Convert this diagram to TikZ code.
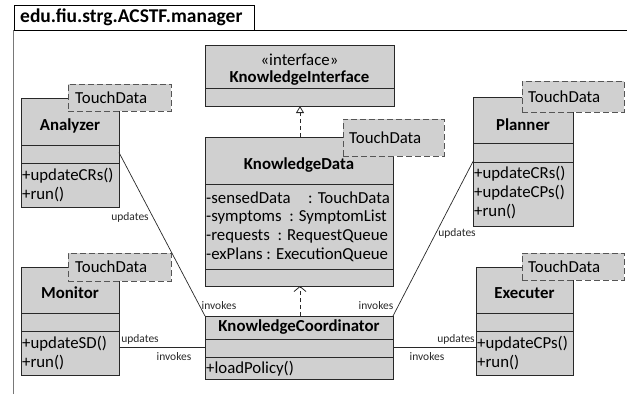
\documentclass[tikz,border=0pt]{standalone}
\usepackage{fontspec}
\setmainfont{Carlito}
\usetikzlibrary{arrows.meta,calc}
\definecolor{boxfill}{RGB}{208,208,208}
\definecolor{boxline}{RGB}{40,40,40}
\definecolor{tagline}{RGB}{85,85,85}
\definecolor{framegray}{RGB}{120,120,120}
\tikzset{
  classbox/.style={draw=boxline, fill=boxfill, line width=1pt, inner sep=0pt, outer sep=0pt},
  tagbox/.style={draw=tagline, fill=boxfill, line width=1pt, dash pattern=on 6pt off 3pt, inner sep=0pt, outer sep=0pt},
  sep/.style={draw=boxline, line width=1pt},
  cname/.style={font=\fontsize{16.8}{19}\selectfont\bfseries, inner sep=0pt},
  member/.style={font=\fontsize{16.8}{19}\selectfont, inner sep=0pt, anchor=west},
  tagtext/.style={font=\fontsize{16.8}{19}\selectfont, inner sep=0pt, anchor=west},
  lbl/.style={font=\fontsize{11.5}{13}\selectfont, inner sep=0pt, text=boxline},
  assoc/.style={draw=boxline, line width=0.7pt},
  real/.style={draw=boxline, line width=0.8pt, dash pattern=on 4pt off 3pt},
}
\begin{document}
\begin{tikzpicture}[x=1pt,y=-1pt]
\useasboundingbox (0,0) rectangle (627,394);
% package frame
\draw[framegray, line width=1.2pt] (13.5,394) -- (13.5,30);
\draw[black, line width=1pt] (13.5,30) -- (627,30);
\node[draw=black, line width=1pt, minimum width=240pt, minimum height=25pt, inner sep=0pt, anchor=north west] (pkg) at (13.5,5) {};
\node[font=\fontsize{19.5}{22}\selectfont\bfseries, anchor=west, inner sep=0pt] (pkgname) at (20,17.5) {edu.fiu.strg.ACSTF.manager};

% KnowledgeInterface
\node[classbox, anchor=north west, minimum width=189pt, minimum height=61pt] (ki) at (205,45) {};
\draw[sep] (205,88) -- (394,88);
\node[font=\fontsize{16.8}{19}\selectfont, inner sep=0pt] (kist) at (299.5,60) {«interface»};
\node[cname] (kiname) at (299.5,78) {KnowledgeInterface};

% KnowledgeData
\node[classbox, anchor=north west, minimum width=188pt, minimum height=149pt] (kd) at (205,137) {};
\draw[sep] (205,184) -- (393,184);
\draw[sep] (205,269) -- (393,269);
\node[cname] (kdname) at (299,165) {KnowledgeData};
\node[member] (kd1) at (206,198) {-sensedData};
\node[member, anchor=east] (kd1b) at (390,198) {: TouchData};
\node[member] (kd2) at (206,217) {-symptoms\ \ : SymptomList};
\node[member] (kd3) at (206,236) {-requests\ \ : RequestQueue};
\node[member] (kd4) at (206,255) {-exPlans : ExecutionQueue};
\node[tagbox, anchor=north west, minimum width=101pt, minimum height=37pt] (kdt) at (343,119) {};
\node[tagtext] (kdtt) at (349,138) {TouchData};

% KnowledgeCoordinator
\node[classbox, anchor=north west, minimum width=188pt, minimum height=63pt] (kc) at (205,316) {};
\draw[sep] (205,339) -- (393,339);
\draw[sep] (205,357) -- (393,357);
\node[cname] (kcname) at (299,327.5) {KnowledgeCoordinator};
\node[member] (kc1) at (206,369) {+loadPolicy()};

% Analyzer
\node[classbox, anchor=north west, minimum width=98pt, minimum height=109pt] (an) at (21,98) {};
\draw[sep] (21,145) -- (119,145);
\draw[sep] (21,163) -- (119,163);
\node[cname] (anname) at (70,126) {Analyzer};
\node[member] (an1) at (22,176) {+updateCRs()};
\node[member] (an2) at (22,195) {+run()};
\node[tagbox, anchor=north west, minimum width=103pt, minimum height=27pt] (ant) at (68,84) {};
\node[tagtext] (antt) at (75,97.5) {TouchData};

% Monitor
\node[classbox, anchor=north west, minimum width=98pt, minimum height=108pt] (mo) at (21,267) {};
\draw[sep] (21,313) -- (119,313);
\draw[sep] (21,331) -- (119,331);
\node[cname] (moname) at (70,293) {Monitor};
\node[member] (mo1) at (22,344) {+updateSD()};
\node[member] (mo2) at (22,363) {+run()};
\node[tagbox, anchor=north west, minimum width=103pt, minimum height=28pt] (mot) at (68,253) {};
\node[tagtext] (mott) at (75,267) {TouchData};

% Planner
\node[classbox, anchor=north west, minimum width=100pt, minimum height=129pt] (pl) at (473,97) {};
\draw[sep] (473,143) -- (573,143);
\draw[sep] (473,162) -- (573,162);
\node[cname] (plname) at (523,125) {Planner};
\node[member] (pl1) at (474,174) {+updateCRs()};
\node[member] (pl2) at (474,193) {+updateCPs()};
\node[member] (pl3) at (474,212) {+run()};
\node[tagbox, anchor=north west, minimum width=102pt, minimum height=31pt] (plt) at (522,81) {};
\node[tagtext] (pltt) at (528,96.5) {TouchData};

% Executer
\node[classbox, anchor=north west, minimum width=97pt, minimum height=108pt] (ex) at (476,267) {};
\draw[sep] (476,313) -- (573,313);
\draw[sep] (476,331) -- (573,331);
\node[cname] (exname) at (524.5,293) {Executer};
\node[member] (ex1) at (477,344) {+updateCPs()};
\node[member] (ex2) at (477,363) {+run()};
\node[tagbox, anchor=north west, minimum width=102pt, minimum height=27pt] (ext) at (522,253) {};
\node[tagtext] (extt) at (528,266.5) {TouchData};

% realization KD -> KI
\draw[real, -{Triangle[open, width=8pt, length=7pt]}] (kd.north -| 300,0) -- (ki.south -| 300,0);
% dependency KC -> KD
\draw[real, -{Straight Barb[width=12pt, length=5pt]}] (kc.north -| 300,0) -- (kd.south -| 300,0);

% associations
\draw[assoc] (an.east) -- (kc.north west);
\draw[assoc] (pl.west) -- (kc.north east);
\draw[assoc] (kc.west) -- (kc.west -| mo.east);
\draw[assoc] (kc.east) -- (kc.east -| ex.west);

% labels
\node[lbl] (l1) at (130,217) {updates};
\node[lbl] (l2) at (219,306) {invokes};
\node[lbl] (l3) at (457,233) {updates};
\node[lbl] (l4) at (376,306) {invokes};
\node[lbl] (l5) at (140,339) {updates};
\node[lbl] (l6) at (174,357) {invokes};
\node[lbl] (l7) at (456,339) {updates};
\node[lbl] (l8) at (427,357) {invokes};
\end{tikzpicture}
\end{document}
